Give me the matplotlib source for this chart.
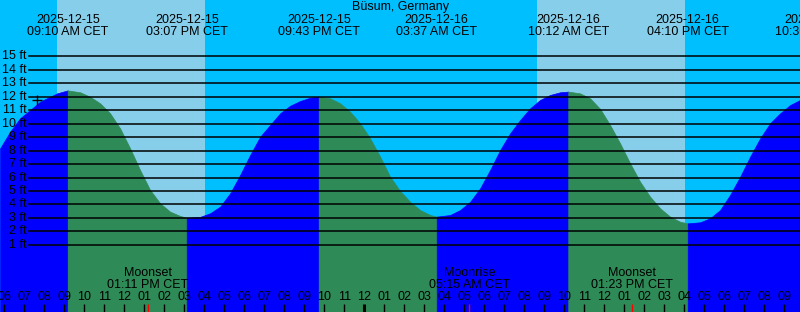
import numpy as np
import matplotlib.pyplot as plt

plt.rcParams['font.family'] = ['Liberation Sans', 'DejaVu Sans']

# hours counted from 2025-12-15 00:00 CET
tide_t = [5.79, 6.29, 6.79, 7.29, 7.79, 8.29, 8.64, 9.17, 9.79, 10.29, 10.79,
          11.29, 11.79, 12.29, 12.79, 13.29, 13.79, 14.29, 14.79, 15.12, 15.79,
          16.29, 16.79, 17.29, 17.79, 18.29, 18.79, 19.29, 19.79, 20.29, 20.79,
          21.29, 21.72, 22.29, 22.79, 23.29, 23.79, 24.29, 24.79, 25.29, 25.79,
          26.29, 26.79, 27.29, 27.62, 28.29, 28.79, 29.29, 29.79, 30.29, 30.79,
          31.29, 31.79, 32.29, 32.79, 33.29, 33.79, 34.20, 34.79, 35.29, 35.79,
          36.29, 36.79, 37.29, 37.79, 38.29, 38.79, 39.29, 39.79, 40.17, 40.79,
          41.29, 41.79, 42.29, 42.79, 43.29, 43.79, 44.29, 44.79, 45.29, 45.79]
tide_ft = [8.17, 9.40, 10.40, 11.01, 11.63, 12.00, 12.25, 12.47, 12.33, 12.00, 11.51,
           10.77, 9.65, 8.17, 6.56, 5.08, 4.09, 3.47, 3.15, 3.02, 3.08,
           3.35, 3.84, 4.83, 6.19, 7.67, 9.03, 9.90, 10.77, 11.33, 11.68,
           11.93, 12.00, 11.88, 11.51, 10.89, 10.03, 8.91, 7.55, 6.06, 5.00,
           4.20, 3.59, 3.22, 3.10, 3.22, 3.59, 4.20, 5.20, 6.56, 8.04,
           9.28, 10.27, 11.14, 11.76, 12.13, 12.33, 12.38, 12.25, 11.88, 11.10,
           9.90, 8.54, 7.06, 5.69, 4.58, 3.72, 3.10, 2.72, 2.60, 2.68,
           2.98, 3.59, 4.71, 6.06, 7.55, 8.91, 10.03, 10.77, 11.38, 11.76]

# high / low tides
event_t = [9.17, 15.12, 21.72, 27.62, 34.20, 40.17, 46.60]
event_high = [True, False, True, False, True, False, True]
event_date = ['2025-12-15', '2025-12-15', '2025-12-15', '2025-12-16',
              '2025-12-16', '2025-12-16', '2025-12-16']
event_time = ['09:10 AM CET', '03:07 PM CET', '09:43 PM CET', '03:37 AM CET',
              '10:12 AM CET', '04:10 PM CET', '10:36 PM CET']

# daylight
sunrise = [8.64, 32.64]
sunset = [16.04, 40.04]

# moon
moon_t = [13.18, 29.25, 37.38]
moon_name = ['Moonset', 'Moonrise', 'Moonset']
moon_time = ['01:11 PM CET', '05:15 AM CET', '01:23 PM CET']

levels = list(range(1, 16))
title = 'Büsum, Germany'

W, H = 800, 312
t0 = 5.785
t1 = t0 + 40
ybot, ytop = -3.98, 19.18

def fy(py):
    # pixel row -> axes fraction
    return 1 - py / H

fig = plt.figure(figsize=(W / 100, H / 100), dpi=100)
ax = fig.add_axes([0, 0, 1, 1])
ax.set_xlim(t0, t1)
ax.set_ylim(ybot, ytop)
ax.axis('off')

night = '#00bfff'
day = '#87ceeb'
rise_c = '#0000ff'
fall_c = '#2e8b57'

ax.axvspan(t0, t1, color=night, lw=0, zorder=0)
for a, b in zip(sunrise, sunset):
    ax.axvspan(a, b, color=day, lw=0, zorder=0)

t = np.array(tide_t)
h = np.array(tide_ft)
bounds = [t0] + [e for e in event_t if t0 < e < t1] + [t1]
for i in range(len(bounds) - 1):
    a, b = bounds[i], bounds[i + 1]
    # colour by the extreme that ends the segment
    nxt = [hi for e, hi in zip(event_t, event_high) if e >= b - 1e-6][0]
    m = (t >= a - 0.01) & (t <= b + 0.01)
    c = rise_c if nxt else fall_c
    ax.fill_between(t[m], h[m], ybot, color=c, lw=0.5, ec=c, zorder=1)

xl = 29 / W
for lv in levels:
    ax.axhline(lv, xmin=xl, xmax=1, color='k', lw=1.1, zorder=3)
    ax.text(t0 + 27 / 20, lv, f'{lv} ft', ha='right', va='center',
            fontsize=9, zorder=4)

ax.plot(t0 + 37.3 / 20, 11.73, marker='+', ms=7, mew=1, color='k', zorder=4)

tr = ax.get_xaxis_transform()
ax.text(0.5, fy(7), title, transform=ax.transAxes, ha='center', va='center',
        fontsize=9)
for et, d, tm in zip(event_t, event_date, event_time):
    ax.text(et, fy(20), d, transform=tr, ha='center', va='center', fontsize=9)
    ax.text(et, fy(32), tm, transform=tr, ha='center', va='center', fontsize=9)

for mt, mn, mtm in zip(moon_t, moon_name, moon_time):
    ax.text(mt, fy(273), mn, transform=tr, ha='center', va='center', fontsize=9,
            zorder=4)
    ax.text(mt, fy(285), mtm, transform=tr, ha='center', va='center', fontsize=9,
            zorder=4)
    ax.vlines(mt, 0, 8 / H, transform=tr, color='red', lw=1, zorder=4)

for hr in range(int(np.ceil(t0)), int(t1) + 1):
    lab = f'{(hr % 12) or 12:02d}'
    ax.text(hr, fy(297), lab, transform=tr, ha='center', va='center',
            fontsize=9, zorder=4)
    if hr % 24 == 0:
        ax.vlines(hr, 0, 8 / H, transform=tr, color='k', lw=2.2, zorder=4)
    else:
        ax.vlines(hr, 0, 8 / H, transform=tr, color='k', lw=1, zorder=4)

fig.savefig('out.png', dpi=100)
